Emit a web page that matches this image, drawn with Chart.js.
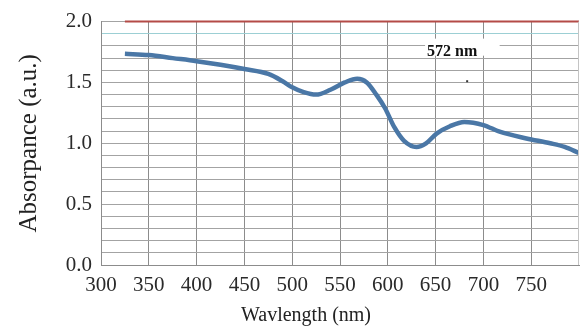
<!DOCTYPE html>
<html>
<head>
<meta charset="utf-8">
<script src="https://cdn.jsdelivr.net/npm/chart.js@4.4.1/dist/chart.umd.min.js"></script>
<style>
  html, body { margin: 0; padding: 0; background: #fff; }
  #wrap { width: 581px; height: 329px; }
</style>
</head>
<body>
<div id="wrap"><canvas id="chart" width="581" height="329"></canvas></div>
<script>
// absorbance spectrum
const wavelengths = [325, 350, 375, 400, 425, 450, 475, 490, 500, 512, 525, 540, 555, 568, 578, 588, 597, 607, 617, 630, 640, 651, 665, 680, 700, 717, 745, 770, 785, 800];
const absorbance = [1.735, 1.725, 1.70, 1.675, 1.645, 1.61, 1.57, 1.51, 1.46, 1.42, 1.40, 1.44, 1.50, 1.53, 1.50, 1.40, 1.29, 1.13, 1.02, 0.97, 1.00, 1.08, 1.14, 1.175, 1.15, 1.095, 1.04, 1.00, 0.97, 0.92];
// red reference line along the top
const refX = [325, 800];
const refY = [2.0, 2.0];
const xTicks = [300, 350, 400, 450, 500, 550, 600, 650, 700, 750];
const yTicks = [0.0, 0.5, 1.0, 1.5, 2.0];
const peakLabel = '572 nm';

const serif = "'Liberation Serif', 'DejaVu Serif', serif";

const extras = {
  id: 'extras',
  afterDatasetsDraw(chart) {
    const {ctx, chartArea, scales: {x, y}} = chart;
    ctx.save();
    // faint right edge of the plot
    ctx.strokeStyle = '#c4c4c4';
    ctx.lineWidth = 1;
    ctx.beginPath();
    ctx.moveTo(chartArea.right - 0.5, chartArea.top);
    ctx.lineTo(chartArea.right - 0.5, chartArea.bottom);
    ctx.stroke();
    // white box + peak label
    const bx1 = x.getPixelForValue(639), bx2 = x.getPixelForValue(717);
    const by1 = y.getPixelForValue(1.86), by2 = y.getPixelForValue(1.72);
    ctx.fillStyle = '#fff';
    ctx.fillRect(bx1, by1, bx2 - bx1, by2 - by1);
    ctx.fillStyle = '#111';
    ctx.font = 'bold 16px ' + serif;
    ctx.textAlign = 'left';
    ctx.textBaseline = 'middle';
    ctx.fillText(peakLabel, x.getPixelForValue(641), y.getPixelForValue(1.75));
    // stray dot
    ctx.fillStyle = '#333';
    ctx.fillRect(x.getPixelForValue(683) - 1, y.getPixelForValue(1.51) - 1, 2, 2);
    // x axis title (sits left of centre in the picture)
    ctx.font = '20px ' + serif;
    ctx.fillStyle = '#222';
    ctx.textAlign = 'center';
    ctx.fillText('Wavlength (nm)', 306, 316);
    ctx.restore();
  }
};

new Chart(document.getElementById('chart'), {
  type: 'line',
  data: {
    datasets: [
      {
        data: wavelengths.map((w, i) => ({x: w, y: absorbance[i]})),
        borderColor: '#4a77a6',
        borderWidth: 4.5,
        pointRadius: 0,
        tension: 0.4,
        cubicInterpolationMode: 'monotone',
        fill: false
      },
      {
        data: refX.map((w, i) => ({x: w, y: refY[i]})),
        borderColor: '#b44b47',
        borderWidth: 2,
        pointRadius: 0,
        clip: 4,
        fill: false
      }
    ]
  },
  options: {
    responsive: false,
    animation: false,
    layout: {padding: {left: 0, right: 2, top: 21, bottom: 0}},
    plugins: {legend: {display: false}, tooltip: {enabled: false}},
    scales: {
      x: {
        type: 'linear',
        min: 300,
        max: 800,
        afterBuildTicks(scale) {
          scale.ticks = xTicks.map(v => ({value: v}));
        },
        afterFit(scale) { scale.height = 64; },
        grid: {color: '#8c8c8c', lineWidth: 1, drawTicks: false},
        border: {display: true, color: '#8c8c8c'},
        ticks: {
          padding: 8,
          maxRotation: 0,
          autoSkip: false,
          color: '#2a2a2a',
          font: {family: serif, size: 21}
        }
      },
      y: {
        min: 0,
        max: 2.0,
        afterBuildTicks(scale) {
          const t = [];
          for (let i = 0; i <= 20; i++) t.push({value: i / 10});
          scale.ticks = t;
        },
        afterFit(scale) { scale.width = 101; },
        grid: {
          drawTicks: false,
          lineWidth: 1,
          color: c => Math.abs(c.tick.value - 1.9) < 1e-6 ? '#9ccfd4' : '#a3a3a3'
        },
        border: {display: true, color: '#8c8c8c'},
        ticks: {
          padding: 9,
          autoSkip: false,
          color: '#2a2a2a',
          font: {family: serif, size: 21},
          callback: v => yTicks.some(t => Math.abs(t - v) < 1e-6) ? v.toFixed(1) : ''
        },
        title: {
          display: true,
          text: 'Absorpance (a.u.)',
          color: '#222',
          font: {family: serif, size: 25},
          padding: {top: 14, bottom: 0}
        }
      }
    }
  },
  plugins: [extras]
});
</script>
</body>
</html>
